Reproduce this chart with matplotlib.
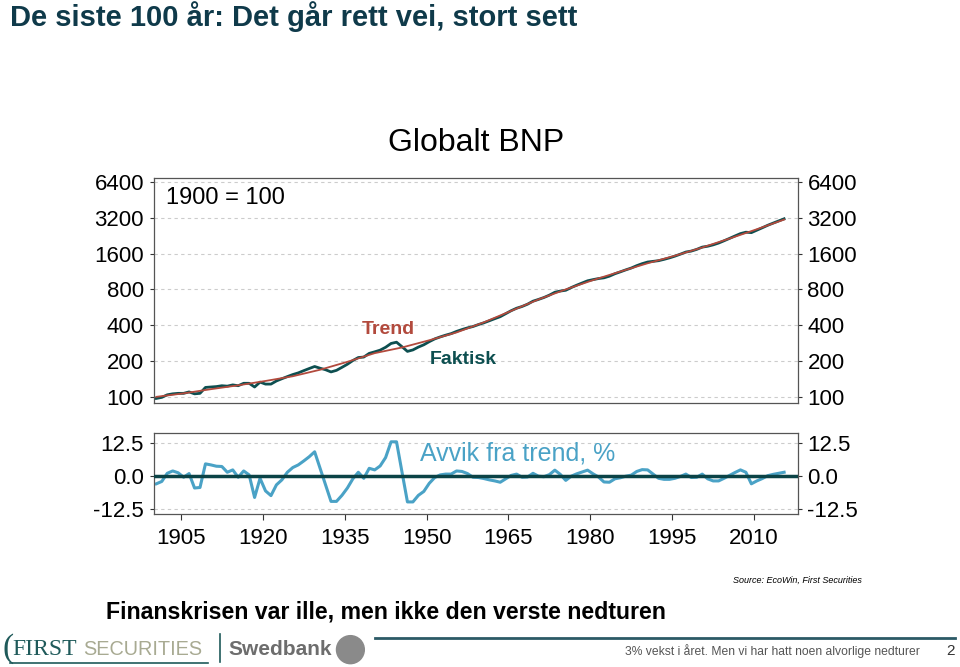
import numpy as np
import matplotlib
matplotlib.use("Agg")
import matplotlib.pyplot as plt
from matplotlib.patches import Ellipse

plt.rcParams["font.family"] = ["Liberation Sans", "DejaVu Sans"]

# årlige verdier 1900-2015
years = list(range(1900, 2016))

# faktisk globalt BNP, 1900 = 100
faktisk = [97, 99, 104, 106, 107, 107, 110, 106, 107, 120,
           121, 122, 124, 123, 126, 124, 130, 130, 121, 133,
           128, 128, 136, 142, 148, 154, 159, 166, 173, 180,
           174, 169, 162, 167, 177, 188, 202, 214, 216, 232,
           239, 247, 261, 281, 288, 264, 241, 248, 262, 274,
           291, 307, 319, 330, 340, 355, 368, 380, 390, 405,
           419, 436, 454, 472, 500, 530, 556, 575, 601, 637,
           659, 684, 716, 757, 775, 787, 829, 868, 906, 945,
           967, 987, 1001, 1034, 1083, 1124, 1168, 1210, 1267, 1317,
           1359, 1377, 1395, 1431, 1473, 1523, 1583, 1649, 1680, 1737,
           1814, 1845, 1895, 1962, 2051, 2147, 2251, 2356, 2421, 2401,
           2517, 2637, 2768, 2888, 3010, 3137]

# avvik fra trend, %
avvik = [-2.9, -2.0, 1.1, 2.0, 1.3, -0.4, 1.0, -4.5, -4.3, 4.7,
         4.3, 3.8, 3.7, 1.5, 2.4, -0.4, 2.0, 0.5, -8.1, -0.8,
         -5.6, -7.4, -3.3, -1.4, 1.5, 3.3, 4.3, 5.8, 7.4, 9.3,
         3.0, -3.3, -9.6, -9.6, -7.3, -4.5, -1.0, 1.5, -0.8, 3.0,
         2.4, 3.9, 7.1, 13.1, 13.1, 1.6, -9.8, -9.8, -7.3, -5.8,
         -2.7, -0.5, 0.5, 0.8, 0.8, 2.0, 1.8, 1.0, -0.4, -0.5,
         -0.9, -1.4, -1.8, -2.3, -1.0, 0.3, 0.8, -0.4, -0.3, 1.1,
         0.0, -0.2, 0.6, 2.3, 0.7, -1.6, 0.0, 0.9, 1.6, 2.3,
         0.9, -0.3, -2.2, -2.3, -1.0, -0.6, 0.0, 0.4, 1.8, 2.5,
         2.4, 0.8, -0.8, -1.2, -1.2, -0.8, -0.1, 0.8, -0.5, -0.4,
         0.8, -1.0, -1.8, -1.8, -0.8, 0.3, 1.4, 2.4, 1.5, -2.9,
         -1.8, -0.9, 0.2, 0.7, 1.1, 1.5]

# trend, 1900 = 100 (hvert 5. år)
trend_years = list(range(1900, 2016, 5))
trend = [100, 107, 116, 125, 136, 149, 169, 197, 233, 260, 299, 348,
         423, 528, 659, 800, 958, 1131, 1327, 1535, 1800, 2141, 2563, 3091]

yt = [100, 200, 400, 800, 1600, 3200, 6400]
xt = [1905, 1920, 1935, 1950, 1965, 1980, 1995, 2010]

teal = "#0d4f50"
red = "#b24a3d"
blue = "#4aa2c6"

fig = plt.figure(figsize=(9.6, 6.67), dpi=100)

fig.text(0.010, 0.975, "De siste 100 år: Det går rett vei, stort sett", fontsize=21,
         fontweight="bold", color="#0f3a4a", ha="left", va="center")
fig.text(0.496, 0.786, "Globalt BNP", fontsize=23, ha="center", va="center")

# øvre panel: BNP, log-skala
ax1 = fig.add_axes([0.160, 0.396, 0.671, 0.337])
ax1.plot(np.array(years) + 0.5, faktisk, color=teal, lw=2.0)
ax1.plot(np.array(trend_years) + 0.5, trend, color=red, lw=1.3)
ax1.set_yscale("log", base=2)
ax1.set_ylim(89, 6900)
ax1.set_xlim(1900, 2018)
ax1.set_yticks(yt)
ax1.set_yticklabels([str(v) for v in yt])
ax1.minorticks_off()
ax1.tick_params(axis="y", labelsize=16, length=3, pad=4, left=True, right=True,
                labelright=True, colors="#333333", labelcolor="black")
ax1.tick_params(axis="x", bottom=False, labelbottom=False)
ax1.grid(axis="y", color="#cccccc", ls=(0, (3, 3)), lw=0.8)
for s in ax1.spines.values():
    s.set_color("#555555")
    s.set_linewidth(0.9)
ax1.text(0.02, 0.91, "1900 = 100", transform=ax1.transAxes, fontsize=17, va="center")
ax1.text(1938.2, 365, "Trend", color=red, fontsize=14, fontweight="bold", va="center")
ax1.text(1950.6, 205, "Faktisk", color=teal, fontsize=14, fontweight="bold", va="center")

# nedre panel: avvik fra trend
ax2 = fig.add_axes([0.160, 0.229, 0.671, 0.122])
ax2.axhline(0, color="#0b4346", lw=2.5, zorder=3)
ax2.plot(np.array(years) + 0.5, avvik, color=blue, lw=2.2, zorder=2)
ax2.set_xlim(1900, 2018)
ax2.set_ylim(-14.5, 16.5)
ax2.set_yticks([-12.5, 0, 12.5])
ax2.set_yticklabels(["-12.5", "0.0", "12.5"])
ax2.set_xticks(xt)
ax2.tick_params(axis="y", labelsize=16, length=3, pad=4, left=True, right=True,
                labelright=True, colors="#333333", labelcolor="black")
ax2.tick_params(axis="x", labelsize=16, length=4, pad=6, colors="#333333", labelcolor="black")
ax2.grid(axis="y", color="#cccccc", ls=(0, (3, 3)), lw=0.8)
for s in ax2.spines.values():
    s.set_color("#555555")
    s.set_linewidth(0.9)
ax2.text(1948.8, 8.5, "Avvik fra trend, %", color=blue, fontsize=18, va="center")

fig.text(0.764, 0.130, "Source: EcoWin, First Securities", fontsize=6.5, style="italic",
         ha="left", va="center")
fig.text(0.110, 0.082, "Finanskrisen var ille, men ikke den verste nedturen", fontsize=16.7,
         fontweight="bold", ha="left", va="center")
fig.add_artist(plt.Line2D([0.391, 0.995], [0.044, 0.044], color="#2c5a66", lw=2))
fig.text(0.958, 0.024, "3% vekst i året. Men vi har hatt noen alvorlige nedturer", fontsize=8.7,
         color="#555555", ha="right", va="center")
fig.text(0.990, 0.024, "2", fontsize=11, color="#333333", ha="center", va="center")

# logoer
fig.text(0.003, 0.027, "(", fontsize=24, color="#1f5a5a", family="Liberation Serif",
         ha="left", va="center")
fig.text(0.013, 0.026, "FIRST", fontsize=17, color="#1f5a5a", family="Liberation Serif",
         ha="left", va="center")
fig.text(0.087, 0.026, "SECURITIES", fontsize=14.3, color="#a8aa92", ha="left", va="center")
fig.add_artist(plt.Line2D([0.010, 0.217], [0.006, 0.006], color="#1f5a5a", lw=1.2))
fig.add_artist(plt.Line2D([0.229, 0.229], [0.008, 0.050], color="#1f5a5a", lw=1.2))
fig.text(0.238, 0.026, "Swedbank", fontsize=15, color="#6d6d6d", fontweight="bold",
         ha="left", va="center")
fig.add_artist(Ellipse((0.365, 0.026), 0.029, 0.042, transform=fig.transFigure,
                       color="#8a8a8a"))

fig.savefig("out.png", dpi=100)
